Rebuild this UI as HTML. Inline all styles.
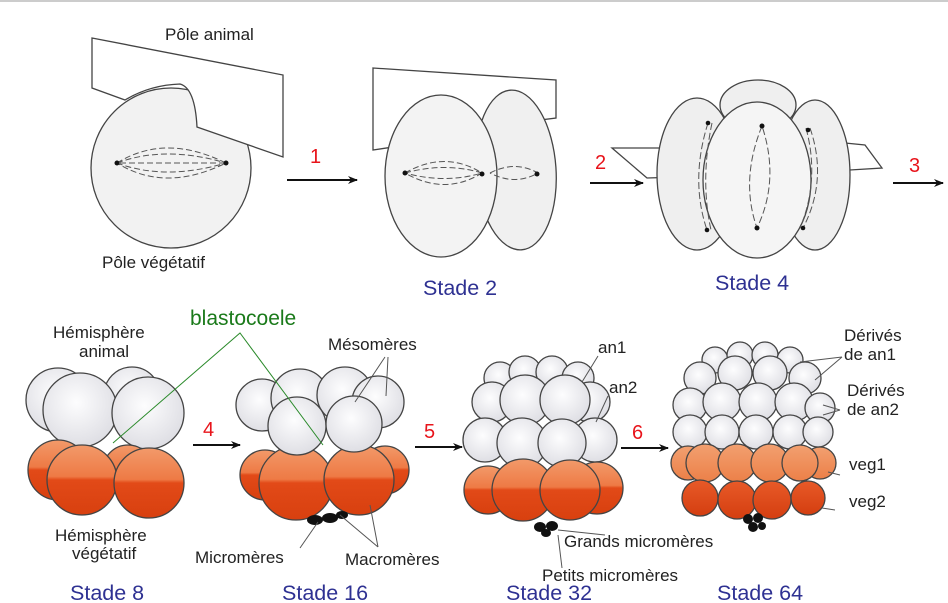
<!DOCTYPE html>
<html><head><meta charset="utf-8"><style>
body{margin:0;background:#fff}
svg{display:block}
text{font-family:"Liberation Sans",sans-serif}
.l{font-size:17px;fill:#222}
.s{font-size:21.5px;fill:#2e3192}
.n{font-size:20px;fill:#e8141b}
.c{stroke:#444;stroke-width:1.3}
</style></head><body>
<svg width="948" height="603" viewBox="0 0 948 603">
<defs>
<marker id="a" markerWidth="10" markerHeight="8" refX="9" refY="4" orient="auto" markerUnits="userSpaceOnUse"><path d="M0,0 L10,4 L0,8 L3,4 Z" fill="#111"/></marker>
<radialGradient id="w" cx="45%" cy="40%" r="65%"><stop offset="0" stop-color="#fdfdfe"/><stop offset="1" stop-color="#dcdce2"/></radialGradient>
<linearGradient id="o" x1="0" y1="0" x2="0" y2="1"><stop offset="0" stop-color="#f29a6a"/><stop offset="0.45" stop-color="#ee7a45"/><stop offset="0.5" stop-color="#e24a18"/><stop offset="1" stop-color="#d8400f"/></linearGradient>
<linearGradient id="o1" x1="0" y1="0" x2="0" y2="1"><stop offset="0" stop-color="#f2a070"/><stop offset="1" stop-color="#ec8048"/></linearGradient>
<linearGradient id="o2" x1="0" y1="0" x2="0" y2="1"><stop offset="0" stop-color="#e85a28"/><stop offset="1" stop-color="#d43e10"/></linearGradient>
</defs>
<line x1="0" y1="1" x2="948" y2="1" stroke="#ccc" stroke-width="2"/>

<!-- Stage 1 -->
<circle cx="171" cy="168" r="80" fill="#f2f2f2" class="c"/>
<path d="M92,38 L283,75 L283,157 L197,127 Q195,88 180,84 Q150,85 125,100 L92,88 Z" fill="#fff" class="c"/>
<g fill="none" stroke="#555" stroke-width="1" stroke-dasharray="6,3">
<path d="M117,163 Q165,133 226,163 Q165,193 117,163"/><path d="M117,163 Q165,145 226,163 Q165,181 117,163"/><line x1="120" y1="163" x2="223" y2="163"/></g>
<circle cx="117" cy="163" r="2.5" fill="#111"/><circle cx="226" cy="163" r="2.5" fill="#111"/>
<text x="165" y="40" class="l">Pôle animal</text>
<text x="102" y="268" class="l">Pôle végétatif</text>
<line x1="287" y1="180" x2="357" y2="180" stroke="#111" stroke-width="2" marker-end="url(#a)"/>
<text x="310" y="163" class="n">1</text>

<!-- Stage 2 -->
<path d="M373,68 L556,80 L556,118 L500,125 L420,143 L373,150 Z" fill="#fff" class="c"/>
<ellipse cx="516" cy="170" rx="40" ry="80" transform="rotate(-4 516 170)" fill="#f0f0f0" class="c"/>
<ellipse cx="441" cy="176" rx="56" ry="81" fill="#f3f3f3" class="c"/>
<g fill="none" stroke="#555" stroke-width="1" stroke-dasharray="6,3">
<path d="M405,173 Q445,150 482,173 Q445,196 405,173"/><path d="M405,173 Q445,162 482,173 Q445,184 405,173"/><path d="M490,173 Q515,160 538,173 Q515,186 490,173"/></g>
<circle cx="405" cy="173" r="2.5" fill="#111"/><circle cx="482" cy="174" r="2.5" fill="#111"/><circle cx="537" cy="174" r="2.5" fill="#111"/>
<text x="423" y="295" class="s">Stade 2</text>
<line x1="590" y1="183" x2="643" y2="183" stroke="#111" stroke-width="2" marker-end="url(#a)"/>
<text x="595" y="169" class="n">2</text>

<!-- Stage 4 -->
<polygon points="612,148 662,148 680,177 647,178" fill="#fff" class="c"/>
<polygon points="845,143 865,145 882,168 850,170" fill="#fff" class="c"/>
<ellipse cx="758" cy="105" rx="38" ry="25" fill="#efefef" class="c"/>
<ellipse cx="697" cy="174" rx="40" ry="76" fill="#efefef" class="c"/>
<ellipse cx="815" cy="175" rx="35" ry="75" fill="#efefef" class="c"/>
<ellipse cx="757" cy="180" rx="54" ry="78" fill="#f5f5f5" class="c"/>
<g fill="none" stroke="#555" stroke-width="1" stroke-dasharray="7,3">
<path d="M762,126 Q740,180 757,228 Q780,180 762,126"/><path d="M708,123 Q690,180 707,230"/><path d="M712,123 Q700,180 711,230"/><path d="M810,128 Q828,180 803,228"/><path d="M806,128 Q820,180 800,228"/></g>
<g fill="#111"><circle cx="762" cy="126" r="2.5"/><circle cx="757" cy="228" r="2.5"/><circle cx="708" cy="123" r="2.3"/><circle cx="707" cy="230" r="2.3"/><circle cx="808" cy="130" r="2.3"/><circle cx="803" cy="228" r="2.3"/></g>
<text x="715" y="290" class="s">Stade 4</text>
<line x1="893" y1="183" x2="943" y2="183" stroke="#111" stroke-width="2" marker-end="url(#a)"/>
<text x="909" y="172" class="n">3</text>

<!-- Stage 8 -->
<g class="c">
<circle cx="58" cy="400" r="32" fill="url(#w)"/><circle cx="132" cy="395" r="28" fill="url(#w)"/>
<circle cx="80" cy="410" r="37" fill="url(#w)"/><circle cx="148" cy="413" r="36" fill="url(#w)"/>
<circle cx="58" cy="470" r="30" fill="url(#o)"/><circle cx="128" cy="470" r="25" fill="url(#o)"/>
<circle cx="82" cy="480" r="35" fill="url(#o)"/><circle cx="149" cy="483" r="35" fill="url(#o)"/>
</g>
<text x="53" y="338" class="l">Hémisphère</text><text x="79" y="357" class="l">animal</text>
<text x="55" y="541" class="l">Hémisphère</text><text x="72" y="559" class="l">végétatif</text>
<text x="70" y="600" class="s">Stade 8</text>
<line x1="193" y1="445" x2="240" y2="445" stroke="#111" stroke-width="2" marker-end="url(#a)"/>
<text x="203" y="436" class="n">4</text>

<!-- Stage 16 -->
<g class="c">
<circle cx="265" cy="475" r="25" fill="url(#o)"/><circle cx="385" cy="470" r="24" fill="url(#o)"/>
<circle cx="262" cy="405" r="26" fill="url(#w)"/><circle cx="300" cy="398" r="29" fill="url(#w)"/><circle cx="345" cy="395" r="28" fill="url(#w)"/><circle cx="378" cy="402" r="26" fill="url(#w)"/>
<circle cx="296" cy="483" r="37" fill="url(#o)"/><circle cx="359" cy="480" r="35" fill="url(#o)"/>
<circle cx="297" cy="426" r="29" fill="url(#w)"/><circle cx="354" cy="424" r="28" fill="url(#w)"/>
</g>
<ellipse cx="315" cy="520" rx="8" ry="5" fill="#111"/><ellipse cx="330" cy="518" rx="8" ry="5" fill="#111"/><ellipse cx="342" cy="515" rx="6" ry="4" fill="#111"/>
<text x="328" y="350" class="l">Mésomères</text>
<path d="M385,357 L355,402 M388,357 L386,396" stroke="#555" fill="none"/>
<text x="195" y="563" class="l">Micromères</text>
<text x="345" y="565" class="l">Macromères</text>
<path d="M300,548 L318,522 M378,547 L340,515 M378,547 L370,505" stroke="#555" fill="none"/>
<text x="282" y="600" class="s">Stade 16</text>
<line x1="415" y1="447" x2="462" y2="447" stroke="#111" stroke-width="2" marker-end="url(#a)"/>
<text x="424" y="438" class="n">5</text>

<!-- blastocoele -->
<text x="190" y="325" font-size="21" fill="#1a7a1a">blastocoele</text>
<path d="M113,443 L240,333 L323,445" stroke="#2a8a2a" fill="none"/>

<!-- Stage 32 -->
<g class="c">
<circle cx="500" cy="378" r="16" fill="url(#w)"/><circle cx="525" cy="372" r="16" fill="url(#w)"/><circle cx="552" cy="372" r="16" fill="url(#w)"/><circle cx="578" cy="378" r="16" fill="url(#w)"/>
<circle cx="492" cy="402" r="20" fill="url(#w)"/><circle cx="590" cy="402" r="20" fill="url(#w)"/>
<circle cx="525" cy="400" r="25" fill="url(#w)"/><circle cx="565" cy="400" r="25" fill="url(#w)"/>
<circle cx="485" cy="440" r="22" fill="url(#w)"/><circle cx="595" cy="440" r="22" fill="url(#w)"/>
<circle cx="522" cy="443" r="25" fill="url(#w)"/><circle cx="562" cy="443" r="24" fill="url(#w)"/>
<circle cx="488" cy="490" r="24" fill="url(#o)"/><circle cx="597" cy="488" r="26" fill="url(#o)"/>
<circle cx="523" cy="490" r="31" fill="url(#o)"/><circle cx="570" cy="490" r="30" fill="url(#o)"/>
</g>
<ellipse cx="540" cy="527" rx="6" ry="5" fill="#111"/><ellipse cx="552" cy="526" rx="6" ry="5" fill="#111"/><ellipse cx="546" cy="533" rx="5" ry="4" fill="#111"/>
<text x="598" y="353" class="l">an1</text><text x="609" y="393" class="l">an2</text>
<path d="M598,356 L582,382 M608,396 L596,422 M558,530 L605,535 M558,535 L562,568" stroke="#555" fill="none"/>
<text x="564" y="547" class="l">Grands micromères</text>
<text x="542" y="581" class="l">Petits micromères</text>
<text x="506" y="600" class="s">Stade 32</text>
<line x1="621" y1="448" x2="668" y2="448" stroke="#111" stroke-width="2" marker-end="url(#a)"/>
<text x="632" y="439" class="n">6</text>

<!-- Stage 64 -->
<g class="c">
<circle cx="715" cy="360" r="13" fill="url(#w)"/><circle cx="740" cy="355" r="13" fill="url(#w)"/><circle cx="765" cy="355" r="13" fill="url(#w)"/><circle cx="790" cy="360" r="13" fill="url(#w)"/>
<circle cx="700" cy="378" r="16" fill="url(#w)"/><circle cx="735" cy="373" r="17" fill="url(#w)"/><circle cx="770" cy="373" r="17" fill="url(#w)"/><circle cx="805" cy="378" r="16" fill="url(#w)"/>
<circle cx="690" cy="405" r="17" fill="url(#w)"/><circle cx="722" cy="402" r="19" fill="url(#w)"/><circle cx="758" cy="402" r="19" fill="url(#w)"/><circle cx="794" cy="402" r="19" fill="url(#w)"/><circle cx="820" cy="408" r="15" fill="url(#w)"/>
<circle cx="690" cy="432" r="17" fill="url(#w)"/><circle cx="722" cy="432" r="17" fill="url(#w)"/><circle cx="756" cy="432" r="17" fill="url(#w)"/><circle cx="790" cy="432" r="17" fill="url(#w)"/><circle cx="818" cy="432" r="15" fill="url(#w)"/>
<circle cx="688" cy="463" r="17" fill="url(#o1)"/><circle cx="820" cy="463" r="16" fill="url(#o1)"/>
<circle cx="705" cy="463" r="19" fill="url(#o1)"/><circle cx="737" cy="463" r="19" fill="url(#o1)"/><circle cx="770" cy="463" r="19" fill="url(#o1)"/><circle cx="800" cy="463" r="18" fill="url(#o1)"/>
<circle cx="700" cy="498" r="18" fill="url(#o2)"/><circle cx="808" cy="498" r="17" fill="url(#o2)"/>
<circle cx="737" cy="500" r="19" fill="url(#o2)"/><circle cx="772" cy="500" r="19" fill="url(#o2)"/>
</g>
<circle cx="748" cy="519" r="5" fill="#111"/><circle cx="758" cy="518" r="5" fill="#111"/><circle cx="753" cy="527" r="5" fill="#111"/><circle cx="762" cy="526" r="4" fill="#111"/>
<text x="844" y="341" class="l">Dérivés</text><text x="844" y="360" class="l">de an1</text>
<text x="847" y="396" class="l">Dérivés</text><text x="847" y="415" class="l">de an2</text>
<text x="849" y="470" class="l">veg1</text><text x="849" y="507" class="l">veg2</text>
<path d="M800,362 L842,357 M815,380 L842,357 M823,405 L840,410 M823,415 L840,410 M828,472 L840,475 M822,508 L835,510" stroke="#555" fill="none"/>
<text x="717" y="600" class="s">Stade 64</text>
</svg>
</body></html>
